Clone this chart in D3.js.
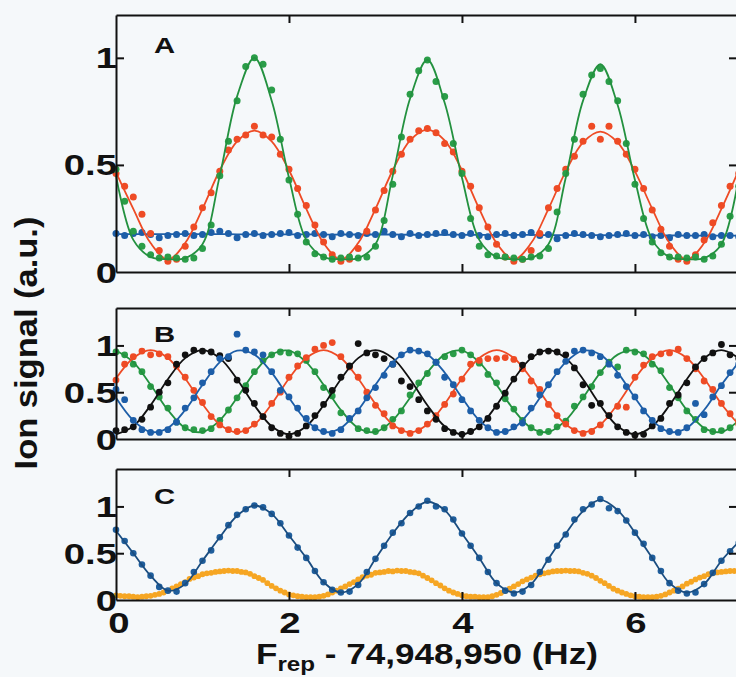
<!DOCTYPE html>
<html>
<head>
<meta charset="utf-8">
<script src="https://cdn.jsdelivr.net/npm/d3@7"></script>
<style>
  body { margin: 0; background: #f5f8fa; }
  svg { display: block; }
  text { font-family: "Liberation Sans", Arial, Helvetica, sans-serif; font-weight: bold; fill: #111; }
</style>
</head>
<body>
<div id="chart"></div>
<script>

// sweep grids (Hz offset from 74,948,950)
var sweepStep = 0.1;   // dot spacing for most series
var denseStep = 0.05;  // dot spacing of the yellow trace in C
var fitStep = 0.2;     // spacing of the fit curve samples

var xTicks = [0, 2, 4, 6];
var xTickLabels = ["0", "2", "4", "6"];
var yTicks = [0, 0.5, 1];
var yTickLabels = ["0", "0.5", "1"];
var panelLetters = ["A", "B", "C"];

// ---- panel A ----
var aGreen = [0.48,0.33,0.19,0.12,0.08,0.065,0.07,0.065,0.06,0.065,
  0.11,0.22,0.45,0.61,0.80,0.96,1.00,0.97,0.85,0.62,
  0.43,0.27,0.14,0.085,0.07,0.06,0.065,0.07,0.065,0.07,
  0.12,0.24,0.41,0.63,0.83,0.94,0.99,0.89,0.82,0.60,
  0.46,0.25,0.12,0.08,0.075,0.07,0.065,0.06,0.07,0.075,
  0.11,0.28,0.46,0.62,0.83,0.92,0.95,0.89,0.80,0.60,
  0.41,0.25,0.14,0.09,0.07,0.07,0.065,0.07,0.06,0.075,
  0.13,0.26,0.40];
var aGreenFit = [0.45,0.15,0.07,0.06,0.065,0.13,0.45,0.82,1.00,0.80,
  0.44,0.15,0.07,0.06,0.065,0.13,0.45,0.81,0.99,0.79,
  0.44,0.15,0.07,0.06,0.065,0.13,0.44,0.80,0.97,0.78,
  0.43,0.15,0.07,0.06,0.065,0.13,0.44];
var aRed = [0.46,0.40,0.35,0.27,0.18,0.10,0.05,0.06,0.12,0.21,
  0.30,0.37,0.47,0.57,0.62,0.64,0.68,0.64,0.63,0.55,
  0.48,0.39,0.31,0.22,0.14,0.08,0.05,0.06,0.11,0.19,
  0.29,0.38,0.47,0.55,0.62,0.66,0.67,0.65,0.60,0.56,
  0.47,0.40,0.30,0.21,0.13,0.07,0.05,0.06,0.10,0.18,
  0.30,0.39,0.48,0.54,0.61,0.68,0.62,0.68,0.61,0.55,
  0.48,0.39,0.29,0.20,0.12,0.06,0.05,0.08,0.15,0.23,
  0.31,0.40,0.46];
var aRedFit = [0.465,0.295,0.135,0.058,0.135,0.295,0.475,0.61,0.66,0.61,
  0.475,0.295,0.135,0.058,0.135,0.295,0.475,0.615,0.665,0.615,
  0.475,0.295,0.135,0.058,0.135,0.295,0.47,0.605,0.655,0.605,
  0.47,0.295,0.135,0.058,0.135,0.295,0.475];
var aBlue = [0.18,0.17,0.18,0.185,0.175,0.16,0.17,0.175,0.18,0.17,
  0.175,0.185,0.19,0.18,0.16,0.175,0.18,0.17,0.175,0.18,
  0.185,0.17,0.175,0.18,0.175,0.165,0.18,0.175,0.17,0.18,
  0.175,0.19,0.175,0.165,0.18,0.17,0.175,0.18,0.185,0.175,
  0.17,0.18,0.17,0.165,0.175,0.18,0.17,0.175,0.185,0.17,
  0.175,0.155,0.17,0.18,0.175,0.17,0.165,0.17,0.175,0.18,
  0.17,0.175,0.165,0.17,0.16,0.175,0.17,0.17,0.175,0.165,
  0.17,0.17,0.165];
var aBlueFit = [0.177,0.177,0.177,0.177,0.177,0.177,0.177,0.176,0.176,0.176,
  0.176,0.176,0.175,0.175,0.175,0.175,0.175,0.174,0.174,0.174,
  0.174,0.173,0.173,0.173,0.173,0.172,0.172,0.172,0.172,0.171,
  0.171,0.171,0.171,0.170,0.170,0.170,0.170];

// ---- panel B ----
var bGreen = [0.93,0.90,0.80,0.72,0.56,0.45,0.33,0.18,0.12,0.10,0.09,0.11,0.20,0.31,0.44,0.57,0.72,0.84,0.90,0.93,
  0.92,0.91,0.84,0.72,0.55,0.46,0.28,0.21,0.11,0.09,0.08,0.12,0.21,0.30,0.47,0.60,0.70,0.82,0.88,0.91,
  0.95,0.90,0.81,0.69,0.60,0.43,0.32,0.20,0.12,0.07,0.08,0.13,0.19,0.35,0.45,0.56,0.71,0.82,0.77,0.95,
  0.93,0.91,0.80,0.73,0.55,0.44,0.30,0.21,0.10,0.08,0.09,0.12,0.20];
var bGreenFit = [0.945,0.821,0.579,0.310,0.118,0.075,0.199,0.441,0.710,0.902,
  0.945,0.821,0.579,0.310,0.118,0.075,0.199,0.441,0.710,0.902,
  0.945,0.821,0.579,0.310,0.118,0.075,0.199,0.441,0.710,0.902,
  0.945,0.821,0.579,0.310,0.118,0.075,0.199];
var bRed = [0.63,0.80,0.88,0.94,0.90,0.91,0.88,0.78,0.66,0.52,0.39,0.24,0.15,0.10,0.08,0.09,0.16,0.24,0.38,0.50,
  0.66,0.78,0.87,0.96,1.00,1.03,0.88,0.77,0.66,0.50,0.36,0.27,0.14,0.09,0.06,0.09,0.16,0.25,0.37,0.48,
  0.64,0.80,0.84,0.86,0.86,0.87,0.85,0.75,0.62,0.53,0.37,0.25,0.16,0.09,0.06,0.08,0.15,0.25,0.35,0.34,
  0.66,0.79,0.88,0.91,0.92,0.96,0.86,0.75,0.62,0.53,0.38,0.27,0.16];
var bRedFit = [0.646,0.866,0.95,0.866,0.646,0.374,0.154,0.07,0.154,0.374,
  0.646,0.866,0.95,0.866,0.646,0.374,0.154,0.07,0.154,0.374,
  0.646,0.866,0.95,0.866,0.646,0.374,0.154,0.07,0.154,0.374,
  0.646,0.866,0.95,0.866,0.646,0.374,0.154];
var bBlack = [0.09,0.10,0.13,0.21,0.34,0.50,0.60,0.80,0.90,0.95,0.94,0.93,0.89,0.86,0.63,0.52,0.38,0.24,0.12,0.06,
  0.03,0.06,0.14,0.25,0.37,0.52,0.66,0.78,1.02,0.92,0.90,0.86,0.80,0.62,0.56,0.42,0.30,0.21,0.11,0.07,
  0.05,0.08,0.13,0.22,0.35,0.49,0.64,0.79,0.88,0.93,0.94,0.93,0.90,0.76,0.58,0.36,0.38,0.25,0.13,0.07,
  0.04,0.05,0.14,0.22,0.38,0.47,0.60,0.77,0.86,0.92,1.01,0.90,0.86];
var bBlackFit = [0.05,0.136,0.361,0.639,0.864,0.95,0.864,0.639,0.361,0.136,
  0.05,0.136,0.361,0.639,0.864,0.95,0.864,0.639,0.361,0.136,
  0.05,0.136,0.361,0.639,0.864,0.95,0.864,0.639,0.361,0.136,
  0.05,0.136,0.361,0.639,0.864,0.95,0.864];
var bBlue = [0.53,0.42,0.20,0.10,0.07,0.07,0.10,0.18,0.33,0.44,0.60,0.72,0.86,0.88,1.12,0.95,0.93,0.90,0.72,0.52,
  0.45,0.33,0.22,0.12,0.08,0.06,0.10,0.22,0.30,0.44,0.55,0.68,0.80,0.90,0.95,0.94,0.91,0.82,0.66,0.58,
  0.42,0.30,0.20,0.12,0.07,0.08,0.13,0.17,0.33,0.47,0.58,0.72,0.83,0.94,0.95,0.92,0.88,0.80,0.68,0.56,
  0.45,0.30,0.20,0.11,0.08,0.07,0.12,0.38,0.26,0.45,0.57,0.71,0.80];
var bBlueFit = [0.441,0.199,0.075,0.118,0.310,0.579,0.821,0.945,0.902,0.710,
  0.441,0.199,0.075,0.118,0.310,0.579,0.821,0.945,0.902,0.710,
  0.441,0.199,0.075,0.118,0.310,0.579,0.821,0.945,0.902,0.710,
  0.441,0.199,0.075,0.118,0.310,0.579,0.821];

// ---- panel C ----
var cBlue = [0.75,0.63,0.50,0.38,0.26,0.14,0.10,0.09,0.18,0.30,
  0.42,0.53,0.67,0.80,0.91,0.97,1.01,0.99,0.92,0.82,
  0.69,0.56,0.45,0.31,0.19,0.11,0.08,0.09,0.16,0.30,
  0.44,0.58,0.72,0.82,0.93,1.00,1.06,1.00,0.97,0.86,
  0.71,0.58,0.45,0.30,0.18,0.10,0.07,0.09,0.16,0.30,
  0.43,0.58,0.70,0.86,0.97,1.02,1.08,0.98,0.95,0.85,
  0.72,0.60,0.45,0.31,0.18,0.10,0.07,0.08,0.17,0.29,
  0.42,0.52,0.61];
var cBlueFit = [0.74,0.50,0.26,0.10,0.17,0.42,0.67,0.90,1.01,0.92,
  0.69,0.45,0.19,0.08,0.17,0.44,0.71,0.93,1.05,0.96,
  0.71,0.45,0.18,0.08,0.17,0.44,0.71,0.95,1.07,0.96,
  0.72,0.45,0.18,0.08,0.17,0.42,0.62];
var cYellow = [0.05,0.045,0.04,0.04,0.035,0.03,0.035,0.04,
  0.045,0.055,0.065,0.08,0.10,0.125,0.145,0.17,0.19,0.225,0.24,0.255,0.275,0.285,0.29,0.30,0.305,0.31,0.315,0.31,
  0.31,0.30,0.295,0.28,0.255,0.235,0.215,0.18,0.15,0.125,0.10,0.08,0.06,0.05,0.04,0.035,0.03,0.03,
  0.03,0.035,0.045,0.06,0.08,0.10,0.125,0.145,0.17,0.19,0.22,0.245,0.26,0.27,0.29,0.295,0.30,0.31,0.305,0.315,0.31,
  0.31,0.30,0.295,0.285,0.26,0.235,0.21,0.18,0.155,0.125,0.10,0.08,0.065,0.05,0.04,0.035,0.035,0.03,
  0.03,0.03,0.04,0.055,0.075,0.095,0.12,0.145,0.17,0.20,0.22,0.24,0.26,0.275,0.285,0.295,0.305,0.31,0.31,0.315,0.31,
  0.31,0.305,0.29,0.28,0.26,0.235,0.205,0.18,0.15,0.12,0.10,0.08,0.065,0.05,0.04,0.035,0.03,0.03,
  0.03,0.035,0.045,0.06,0.08,0.10,0.12,0.145,0.175,0.195,0.22,0.24,0.255,0.275,0.285,0.295,0.30,0.305,0.31,0.31,0.31];

var width = 736, height = 677;
var stretch = 1.3; // the lettering of the figure is wide

var svg = d3.select("#chart").append("svg")
  .attr("width", width)
  .attr("height", height);

svg.append("rect")
  .attr("width", width)
  .attr("height", height)
  .attr("fill", "#f5f8fa");

var x = d3.scaleLinear().domain([0, 7.18]).range([116, 737]);

var panels = [
  {top: 15, bottom: 272, yMax: 1.2, letterDy: 38, series: [
    {dots: aBlue, fit: aBlueFit, step: sweepStep, color: "#1d5ea8", line: "#1d5ea8", r: 3.5},
    {dots: aRed, fit: aRedFit, step: sweepStep, color: "#ee4b25", line: "#ee4b25", r: 3.5},
    {dots: aGreen, fit: aGreenFit, step: sweepStep, color: "#2a9d48", line: "#23913f", r: 3.5}
  ]},
  {top: 308, bottom: 439, yMax: 1.4, letterDy: 34, series: [
    {dots: bGreen, fit: bGreenFit, step: sweepStep, color: "#2a9d48", line: "#23913f", r: 3.4},
    {dots: bRed, fit: bRedFit, step: sweepStep, color: "#ee4b25", line: "#ee4b25", r: 3.4},
    {dots: bBlack, fit: bBlackFit, step: sweepStep, color: "#111", line: "#111", r: 3.4},
    {dots: bBlue, fit: bBlueFit, step: sweepStep, color: "#1d5ea8", line: "#1d5ea8", r: 3.4}
  ]},
  {top: 469, bottom: 600, yMax: 1.4, letterDy: 35, series: [
    {dots: cYellow, fit: null, step: denseStep, color: "#f6a623", line: null, r: 2.9},
    {dots: cBlue, fit: cBlueFit, step: sweepStep, color: "#1f5e9c", line: "#1a4d80", r: 3.3}
  ]}
];

// stretched bold text helper
function label(parent, str, tx, ty, size, anchor) {
  return parent.append("text")
    .attr("transform", "translate(" + tx + "," + ty + ") scale(" + stretch + ",1)")
    .attr("text-anchor", anchor)
    .style("font-size", size + "px")
    .text(str);
}

panels.forEach(function (p, pi) {
  var y = d3.scaleLinear().domain([0, p.yMax]).range([p.bottom, p.top]);
  var g = svg.append("g");

  p.series.forEach(function (s) {
    g.append("g").selectAll("circle")
      .data(s.dots)
      .enter()
      .append("circle")
      .attr("cx", function (d, i) { return x(i * s.step); })
      .attr("cy", function (d) { return y(d); })
      .attr("r", s.r)
      .attr("fill", s.color);

    if (s.fit) {
      var line = d3.line()
        .x(function (d, i) { return x(i * fitStep); })
        .y(function (d) { return y(d); })
        .curve(d3.curveCatmullRom);
      g.append("path")
        .datum(s.fit)
        .attr("d", line)
        .attr("fill", "none")
        .attr("stroke", s.line)
        .attr("stroke-width", 1.8);
    }
  });

  //frame with inward ticks
  var axes = [
    {axis: d3.axisBottom(x).tickValues(xTicks.slice(1)), tr: "translate(0," + p.bottom + ")"},
    {axis: d3.axisTop(x).tickValues(xTicks.slice(1)), tr: "translate(0," + p.top + ")"},
    {axis: d3.axisLeft(y).tickValues(yTicks.slice(1)), tr: "translate(" + x.range()[0] + ",0)"},
    {axis: d3.axisRight(y).tickValues(yTicks.slice(1)), tr: "translate(" + x.range()[1] + ",0)"}
  ];
  axes.forEach(function (a) {
    var ag = g.append("g")
      .attr("transform", a.tr)
      .call(a.axis.tickSize(-8).tickSizeOuter(0).tickFormat(""));
    ag.selectAll("path, line").attr("stroke", "#111").attr("stroke-width", 2);
  });

  yTicks.forEach(function (t, i) {
    label(g, yTickLabels[i], 117, y(t) + 10.5, 29.5, "end");
  });

  label(g, panelLetters[pi], 154, p.top + p.letterDy, 22.5, "start");

  if (pi === panels.length - 1) {
    xTicks.forEach(function (t, i) {
      label(g, xTickLabels[i], x(t) + (t === 0 ? 3 : 1), 633, 29.5, "middle");
    });
  }
});

// y axis title
var yTitle = svg.append("text")
  .attr("text-anchor", "middle")
  .style("font-size", "31px")
  .text("Ion signal (a.u.)");
var yLen = yTitle.node().getComputedTextLength();
yTitle.attr("transform", "translate(37,343) rotate(-90) scale(" + (253 / yLen) + ",1)");

// x axis title with subscript
var xTitle = svg.append("text")
  .attr("text-anchor", "start")
  .style("font-size", "29px");
xTitle.append("tspan").text("F");
xTitle.append("tspan").style("font-size", "20px").attr("dy", 7).text("rep");
xTitle.append("tspan").attr("dy", -7).text(" - 74,948,950 (Hz)");
var xLen = xTitle.node().getComputedTextLength();
xTitle.attr("transform", "translate(256,664) scale(" + (342 / xLen) + ",1)");

</script>
</body>
</html>
